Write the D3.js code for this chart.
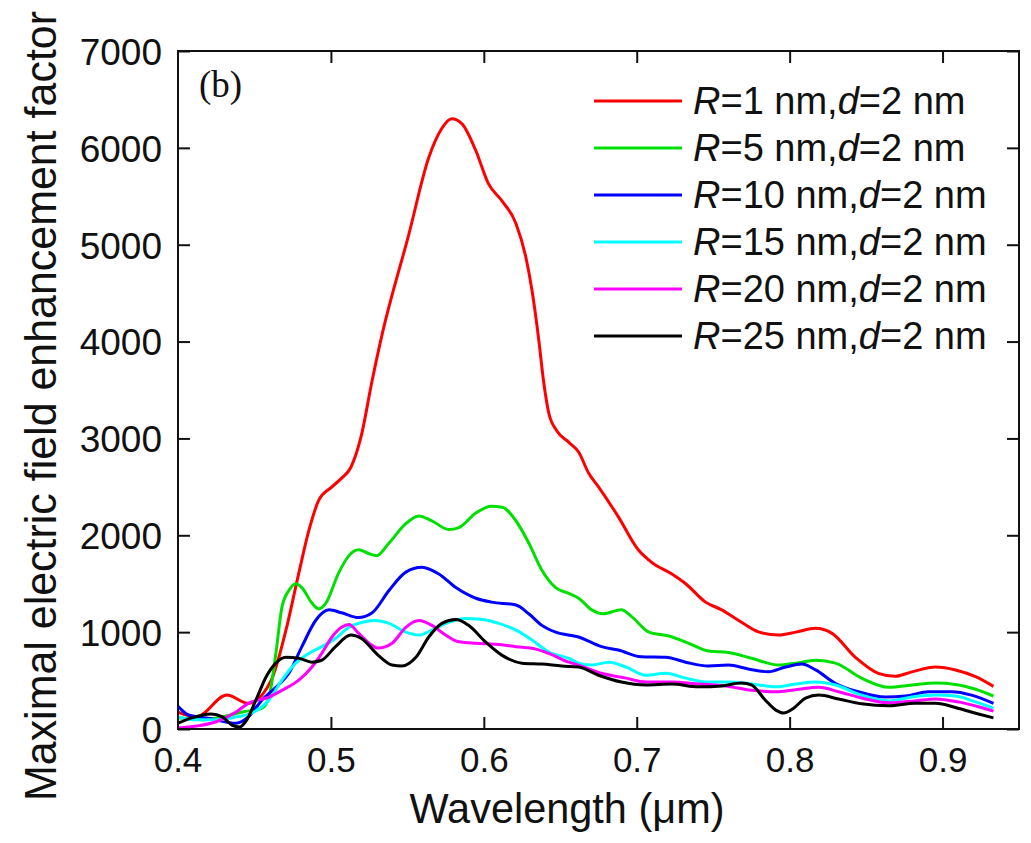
<!DOCTYPE html>
<html>
<head>
<meta charset="utf-8">
<script src="https://cdn.jsdelivr.net/npm/d3@7"></script>
<style>
  body { margin: 0; background: #fff; }
  svg { display: block; }
  text { font-family: "Liberation Sans", Arial, sans-serif; fill: #111; }
</style>
</head>
<body>
<svg id="chart"></svg>
<script>
// wavelength (um), enhancement factor
let r1 = [[0.4,175],[0.412,125],[0.432,350],[0.446,265],[0.461,505],[0.4706,1020],[0.479,1610],[0.4856,2050],[0.492,2360],[0.5007,2500],[0.507,2590],[0.513,2700],[0.5196,3010],[0.527,3600],[0.533,4040],[0.551,5110],[0.564,5900],[0.5725,6200],[0.579,6300],[0.5856,6250],[0.5948,5970],[0.603,5630],[0.612,5450],[0.621,5220],[0.6275,4870],[0.6315,4530],[0.636,4010],[0.639,3600],[0.6425,3260],[0.6477,3080],[0.6556,2960],[0.662,2860],[0.6686,2640],[0.675,2500],[0.688,2190],[0.701,1850],[0.7098,1720],[0.723,1600],[0.732,1500],[0.745,1310],[0.7556,1230],[0.7667,1120],[0.78,1000],[0.793,970],[0.804,1000],[0.817,1040],[0.8275,990],[0.843,740],[0.858,575],[0.869,545],[0.88,590],[0.8954,640],[0.9085,610],[0.9216,540],[0.9333,440]]
let r5 = [[0.4,115],[0.4157,95],[0.429,125],[0.442,175],[0.455,215],[0.4595,330],[0.464,780],[0.468,1260],[0.4725,1430],[0.477,1500],[0.481,1460],[0.4876,1300],[0.492,1240],[0.4967,1300],[0.505,1610],[0.5118,1790],[0.518,1850],[0.525,1810],[0.53,1790],[0.538,1920],[0.549,2120],[0.5575,2200],[0.566,2150],[0.577,2060],[0.5837,2080],[0.5948,2230],[0.605,2300],[0.612,2290],[0.621,2150],[0.6294,1920],[0.638,1640],[0.647,1460],[0.6556,1400],[0.662,1350],[0.6706,1230],[0.678,1190],[0.69,1230],[0.6967,1160],[0.708,1000],[0.721,960],[0.734,885],[0.747,805],[0.76,790],[0.775,730],[0.793,660],[0.804,680],[0.817,710],[0.83,680],[0.847,525],[0.865,430],[0.88,455],[0.8954,475],[0.9085,460],[0.9216,410],[0.9333,340]]
let r10 = [[0.4,235],[0.407,145],[0.42,110],[0.438,60],[0.446,125],[0.455,300],[0.464,430],[0.4725,575],[0.481,850],[0.49,1120],[0.4987,1230],[0.507,1200],[0.518,1150],[0.527,1200],[0.538,1430],[0.549,1620],[0.5595,1670],[0.5706,1600],[0.5817,1460],[0.5948,1350],[0.605,1310],[0.621,1280],[0.6294,1190],[0.638,1070],[0.647,1000],[0.662,950],[0.677,850],[0.688,815],[0.703,745],[0.719,740],[0.732,690],[0.747,650],[0.76,660],[0.773,620],[0.786,590],[0.7974,640],[0.808,670],[0.817,610],[0.83,470],[0.845,385],[0.8627,330],[0.8758,340],[0.891,385],[0.906,385],[0.919,350],[0.9333,265]]
let r15 = [[0.4,125],[0.412,95],[0.425,95],[0.438,125],[0.4484,165],[0.4595,300],[0.468,505],[0.477,680],[0.4856,780],[0.494,850],[0.503,935],[0.5118,1050],[0.52,1100],[0.529,1120],[0.538,1090],[0.549,1000],[0.5575,970],[0.566,1020],[0.577,1100],[0.588,1140],[0.599,1130],[0.6098,1090],[0.621,1020],[0.6314,920],[0.6425,795],[0.6556,730],[0.662,680],[0.6706,660],[0.6817,690],[0.693,640],[0.706,555],[0.719,575],[0.732,525],[0.745,485],[0.76,485],[0.775,465],[0.791,435],[0.804,465],[0.817,485],[0.83,455],[0.847,350],[0.865,290],[0.88,330],[0.8954,350],[0.9085,340],[0.9216,280],[0.9333,215]]
let r20 = [[0.4,10],[0.412,30],[0.425,75],[0.438,175],[0.446,265],[0.4595,330],[0.468,400],[0.479,505],[0.4876,640],[0.494,780],[0.5007,950],[0.507,1050],[0.5118,1080],[0.518,990],[0.525,885],[0.531,835],[0.54,885],[0.549,1050],[0.5575,1120],[0.566,1070],[0.575,970],[0.5837,900],[0.5948,885],[0.6078,875],[0.621,850],[0.634,825],[0.6425,780],[0.6556,690],[0.662,660],[0.677,575],[0.693,525],[0.706,485],[0.723,485],[0.7405,465],[0.758,445],[0.775,400],[0.793,385],[0.806,410],[0.819,430],[0.832,385],[0.847,320],[0.865,270],[0.882,290],[0.8954,310],[0.91,280],[0.9235,230],[0.9333,185]]
let r25 = [[0.4,60],[0.409,115],[0.4216,155],[0.429,125],[0.4353,40],[0.44,20],[0.445,95],[0.451,300],[0.4575,535],[0.464,680],[0.4706,740],[0.479,730],[0.4876,690],[0.494,710],[0.503,850],[0.513,970],[0.52,935],[0.531,760],[0.54,660],[0.5464,650],[0.5556,740],[0.564,950],[0.5726,1090],[0.5817,1130],[0.59,1070],[0.601,900],[0.612,760],[0.625,680],[0.638,670],[0.651,650],[0.662,640],[0.675,555],[0.69,485],[0.706,455],[0.723,465],[0.7405,435],[0.7556,445],[0.7686,475],[0.775,455],[0.784,300],[0.791,195],[0.796,165],[0.8026,215],[0.8104,320],[0.819,350],[0.832,310],[0.847,260],[0.865,240],[0.882,265],[0.8954,265],[0.91,215],[0.9235,155],[0.9333,115]]

let seriesData = [r1, r5, r10, r15, r20, r25]
let radii = [1, 5, 10, 15, 20, 25]
let colors = ['#ff0000', '#00e000', '#0000ff', '#00ffff', '#ff00ff', '#000000']
let xTicks = [0.5, 0.6, 0.7, 0.8, 0.9]
let yTicks = [0, 1000, 2000, 3000, 4000, 5000, 6000, 7000]

let width = 1031
let height = 843
let mLeft = 178, mRight = 1019, mTop = 51, mBottom = 729

let svg = d3.select('#chart').attr('width', width).attr('height', height)

let xScale = d3.scaleLinear().domain([0.4, 0.95]).range([mLeft, mRight])
let yScale = d3.scaleLinear().domain([0, 7000]).range([mBottom, mTop])

svg.append('clipPath').attr('id', 'clip')
    .append('rect')
    .attr('x', mLeft).attr('y', mTop - 2)
    .attr('width', mRight - mLeft).attr('height', mBottom - mTop + 2)

let line = d3.line()
    .x((d) => xScale(d[0]))
    .y((d) => yScale(d[1]))
    .curve(d3.curveMonotoneX)

let plot = svg.append('g').attr('clip-path', 'url(#clip)')
// black is drawn last so it sits on top, like the original
seriesData.forEach((s, i) => {
    plot.append('path')
        .datum(s)
        .attr('d', line)
        .attr('fill', 'none')
        .attr('stroke', colors[i])
        .attr('stroke-width', 3)
        .attr('stroke-linejoin', 'round')
})

// axes: inward ticks on all four sides
let tickLen = 12
let xAxisB = d3.axisBottom(xScale).tickValues(xTicks).tickSize(-tickLen).tickFormat(d3.format('.1f'))
let xAxisT = d3.axisTop(xScale).tickValues(xTicks).tickSize(-tickLen).tickFormat('')
let yAxisL = d3.axisLeft(yScale).tickValues(yTicks).tickSize(-tickLen).tickFormat(d3.format('d')).tickPadding(16)
let yAxisR = d3.axisRight(yScale).tickValues(yTicks).tickSize(-tickLen).tickFormat('')

let gx = svg.append('g').attr('transform', 'translate(0,' + mBottom + ')').call(xAxisB)
svg.append('g').attr('transform', 'translate(0,' + mTop + ')').call(xAxisT)
let gy = svg.append('g').attr('transform', 'translate(' + mLeft + ',0)').call(yAxisL)
svg.append('g').attr('transform', 'translate(' + mRight + ',0)').call(yAxisR)

// 0.4 sits on the frame edge, so it gets a label but no tick
gx.append('text').attr('x', xScale(0.4)).attr('text-anchor', 'middle').text('0.4')
svg.selectAll('.domain').remove()
svg.selectAll('.tick line').attr('stroke', '#111').attr('stroke-width', 2)
gx.selectAll('text').attr('font-size', 35).attr('fill', '#111').attr('dy', null).attr('y', 43)
gy.selectAll('text').attr('font-size', 37).attr('fill', '#111').attr('dy', '0.36em')

svg.append('rect')
    .attr('x', mLeft).attr('y', mTop)
    .attr('width', mRight - mLeft).attr('height', mBottom - mTop)
    .attr('fill', 'none').attr('stroke', '#111').attr('stroke-width', 2)

// axis titles
svg.append('text')
    .attr('x', 567).attr('y', 823)
    .attr('text-anchor', 'middle')
    .attr('font-size', 42)
    .attr('textLength', 315).attr('lengthAdjust', 'spacingAndGlyphs')
    .text('Wavelength (\u03bcm)')

svg.append('text')
    .attr('transform', 'translate(56,406) rotate(-90)')
    .attr('text-anchor', 'middle')
    .attr('font-size', 44)
    .attr('textLength', 790).attr('lengthAdjust', 'spacingAndGlyphs')
    .text('Maximal electric field enhancement factor')

// panel label (serif in the original)
svg.append('text')
    .attr('x', 199).attr('y', 97)
    .style('font-family', '"Liberation Serif", "Times New Roman", serif')
    .attr('font-size', 37)
    .text('(b)')

// legend
let legend = svg.append('g')
radii.forEach((r, i) => {
    let cy = 101 + i * 47
    legend.append('line')
        .attr('x1', 594).attr('x2', 682)
        .attr('y1', cy).attr('y2', cy)
        .attr('stroke', colors[i]).attr('stroke-width', 3)
    let t = legend.append('text')
        .attr('x', 693).attr('y', cy + 13)
        .attr('font-size', 38)
    t.append('tspan').attr('font-style', 'italic').text('R')
    t.append('tspan').text('=' + r + ' nm,')
    t.append('tspan').attr('font-style', 'italic').text('d')
    t.append('tspan').text('=2 nm')
})
</script>
</body>
</html>
